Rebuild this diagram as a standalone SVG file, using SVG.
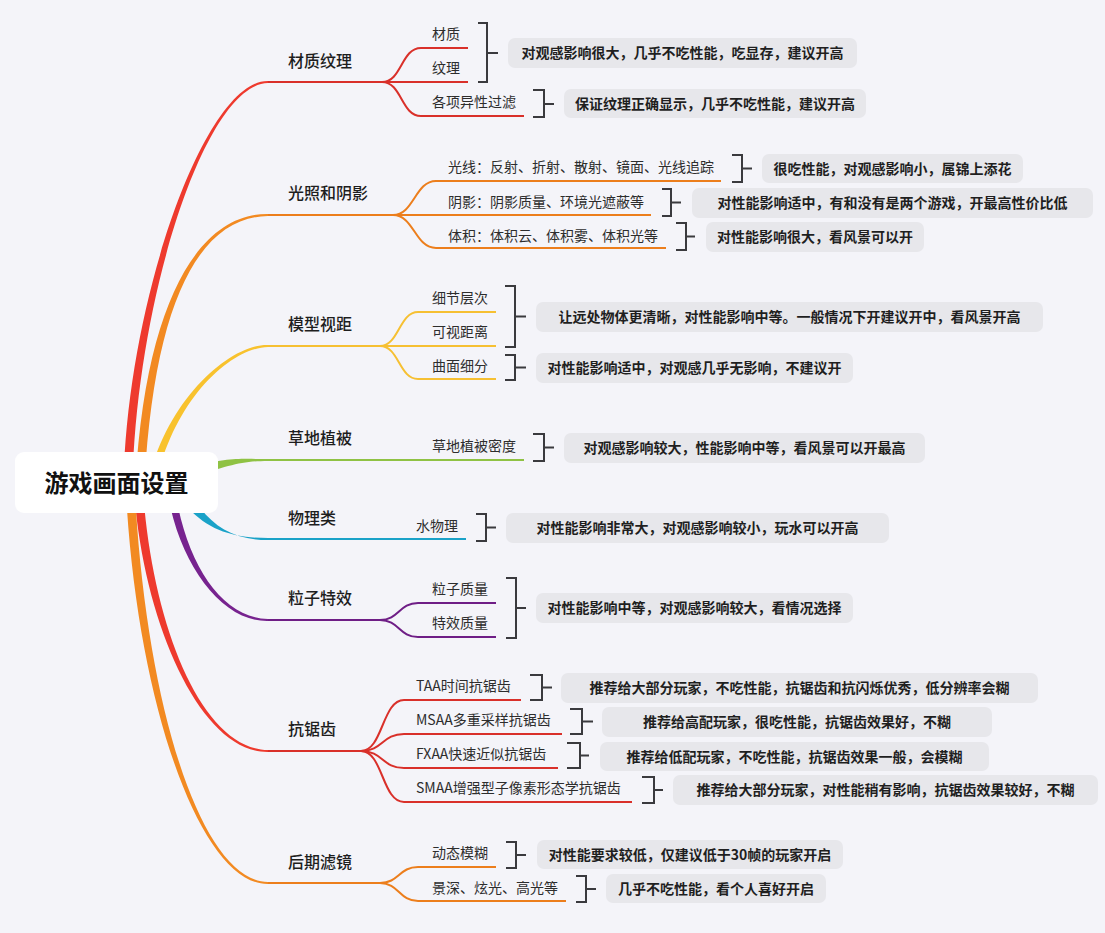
<svg xmlns="http://www.w3.org/2000/svg" width="1105" height="933" viewBox="0 0 1105 933">
<style>
text{font-family:"Noto Sans CJK SC","Noto Sans",sans-serif;}
.main{font-size:16px;font-weight:500;fill:#1e1e1e;}
.child{font-size:14px;fill:#2d2d2d;}
.note{font-size:14px;font-weight:600;fill:#1f1f1f;text-anchor:middle;}
.box{fill:#e7e7eb;}
.br{fill:none;stroke:#3a3a3e;stroke-width:2;}
.ln{fill:none;stroke-width:2;}
.red{stroke:#d9302a;} .org{stroke:#ec7e1c;} .yel{stroke:#f6c033;} .grn{stroke:#8fc244;} .cyn{stroke:#1aa2c8;} .pur{stroke:#6f1e86;}
</style>
<rect width="1105" height="933" fill="#f4f4f9"/>
<g id="connectors">
<path fill="#ee3a2e" d="M123.5,483 C127.5,300 205,80 268,81 L268,83 C205,84 136.5,300 132.5,483 Z"/>
<path fill="#f28a22" d="M135.5,483 C145.5,300 200,213 268,214 L268,216 C200,217 154.5,300 144.5,483 Z"/>
<path fill="#f8c22e" d="M148,483 C166,400 230,344 268,345 L268,347 C230,348 174,400 156,483 Z"/>
<path fill="#8fc244" d="M190,467 C230,457 240,459 268,459 L268,461 C240,461 230,466 190,477 Z"/>
<path fill="#1aa2c8" d="M180,498 C203,529 230,538 268,538 L268,540 C230,540 207,523 190,492 Z"/>
<path fill="#77238f" d="M166,483 C176,560 220,622 268,621 L268,619 C220,618 184,560 174,483 Z"/>
<path fill="#ee3a2e" d="M133.5,483 C141.5,620 200,753 268,752 L268,750 C200,749 150.5,620 142.5,483 Z"/>
<path fill="#f28a22" d="M125.5,483 C135.5,700 200,885 268,884 L268,882 C200,881 144.5,700 134.5,483 Z"/>
<path class="ln red" d="M268,82 H468"/>
<path class="ln red" d="M382,82 C402,82 401,48 421,48 H468"/>
<path class="ln red" d="M382,82 C402,82 401,116 421,116 H524"/>
<path class="ln org" d="M268,215 H651"/>
<path class="ln org" d="M393,215 C414,215 415,181 436,181 H721"/>
<path class="ln org" d="M393,215 C414,215 415,248 436,248 H666"/>
<path class="ln yel" d="M268,346 H496"/>
<path class="ln yel" d="M380,346 C399,346 399,312 418,312 H496"/>
<path class="ln yel" d="M380,346 C399,346 399,379 418,379 H496"/>
<path class="ln grn" d="M268,460 H524"/>
<path class="ln cyn" d="M268,539 H466"/>
<path class="ln pur" d="M268,620 H380"/>
<path class="ln pur" d="M380,620 C399,620 399,603 418,603 H496"/>
<path class="ln pur" d="M380,620 C399,620 399,637 418,637 H496"/>
<path class="ln red" d="M268,751 H361"/>
<path class="ln red" d="M361,751 C383,751 382,700 404,700 H521"/>
<path class="ln red" d="M361,751 C383,751 382,734 404,734 H562"/>
<path class="ln red" d="M361,751 C383,751 382,768 404,768 H558"/>
<path class="ln red" d="M361,751 C383,751 382,802 404,802 H632"/>
<path class="ln org" d="M268,883 H380"/>
<path class="ln org" d="M380,883 C399,883 399,867 418,867 H496"/>
<path class="ln org" d="M380,883 C399,883 399,901 418,901 H566"/>
</g>
<g id="summaries">
<path class="br" d="M478,23 H487 V82 H478 M487,53 H498"/>
<path class="br" d="M533,90 H544 V117 H533 M544,104 H554"/>
<path class="br" d="M732,155 H742 V182 H732 M742,168.5 H752"/>
<path class="br" d="M662,189 H671 V216 H662 M671,202.5 H681"/>
<path class="br" d="M676,223 H686 V250 H676 M686,236.5 H695"/>
<path class="br" d="M505,286 H515 V347 H505 M515,316.5 H526"/>
<path class="br" d="M505,355 H515 V380 H505 M515,367.5 H526"/>
<path class="br" d="M533,434 H544 V461 H533 M544,447.5 H554"/>
<path class="br" d="M476,514 H486 V541 H476 M486,527.5 H496"/>
<path class="br" d="M506,578 H516 V638 H506 M516,608 H526"/>
<path class="br" d="M530,675 H542 V700 H530 M542,687.5 H552"/>
<path class="br" d="M570,709 H582 V734 H570 M582,721.5 H593"/>
<path class="br" d="M567,743 H580 V768 H567 M580,755.5 H589"/>
<path class="br" d="M642,777 H654 V803 H642 M654,790 H663"/>
<path class="br" d="M506,842 H516 V868 H506 M516,855 H526"/>
<path class="br" d="M576,876 H586 V902 H576 M586,889 H596"/>
</g>
<g id="root">
<rect x="15" y="452" width="203" height="61" rx="9" fill="#ffffff"/>
<text x="116.5" y="491.5" font-size="24" font-weight="700" fill="#111" text-anchor="middle">游戏画面设置</text>
</g>
<g id="b1"><text class="main" x="288" y="66.5">材质纹理</text></g>
<g id="b1c1"><text class="child" x="432" y="39">材质</text></g>
<g id="b1c2"><text class="child" x="432" y="73">纹理</text></g>
<g id="b1c3"><text class="child" x="432" y="107">各项异性过滤</text></g>
<g id="b1s1"><rect class="box" x="508" y="38" width="349" height="30" rx="7"/><text class="note" x="682.5" y="58">对观感影响很大，几乎不吃性能，吃显存，建议开高</text></g>
<g id="b1s2"><rect class="box" x="564" y="89" width="302" height="29" rx="7"/><text class="note" x="715" y="108.5">保证纹理正确显示，几乎不吃性能，建议开高</text></g>
<g id="b2"><text class="main" x="288" y="198.5">光照和阴影</text></g>
<g id="b2c1"><text class="child" x="448" y="172">光线：反射、折射、散射、镜面、光线追踪</text></g>
<g id="b2c2"><text class="child" x="448" y="207">阴影：阴影质量、环境光遮蔽等</text></g>
<g id="b2c3"><text class="child" x="448" y="241">体积：体积云、体积雾、体积光等</text></g>
<g id="b2s1"><rect class="box" x="762" y="154" width="261" height="29" rx="7"/><text class="note" x="892.5" y="173.5">很吃性能，对观感影响小，属锦上添花</text></g>
<g id="b2s2"><rect class="box" x="692" y="188" width="401" height="30" rx="7"/><text class="note" x="892.5" y="208">对性能影响适中，有和没有是两个游戏，开最高性价比低</text></g>
<g id="b2s3"><rect class="box" x="706" y="222" width="218" height="30" rx="7"/><text class="note" x="815" y="242">对性能影响很大，看风景可以开</text></g>
<g id="b3"><text class="main" x="288" y="329.5">模型视距</text></g>
<g id="b3c1"><text class="child" x="432" y="303">细节层次</text></g>
<g id="b3c2"><text class="child" x="432" y="337">可视距离</text></g>
<g id="b3c3"><text class="child" x="432" y="371">曲面细分</text></g>
<g id="b3s1"><rect class="box" x="536" y="302" width="507" height="30" rx="7"/><text class="note" x="789.5" y="322">让远处物体更清晰，对性能影响中等。一般情况下开建议开中，看风景开高</text></g>
<g id="b3s2"><rect class="box" x="536" y="353" width="317" height="30" rx="7"/><text class="note" x="694.5" y="373">对性能影响适中，对观感几乎无影响，不建议开</text></g>
<g id="b4"><text class="main" x="288" y="443.5">草地植被</text></g>
<g id="b4c1"><text class="child" x="432" y="451">草地植被密度</text></g>
<g id="b4s1"><rect class="box" x="564" y="433" width="361" height="30" rx="7"/><text class="note" x="744.5" y="453">对观感影响较大，性能影响中等，看风景可以开最高</text></g>
<g id="b5"><text class="main" x="288" y="523.5">物理类</text></g>
<g id="b5c1"><text class="child" x="416" y="531">水物理</text></g>
<g id="b5s1"><rect class="box" x="506" y="513" width="383" height="30" rx="7"/><text class="note" x="697.5" y="533">对性能影响非常大，对观感影响较小，玩水可以开高</text></g>
<g id="b6"><text class="main" x="288" y="603.5">粒子特效</text></g>
<g id="b6c1"><text class="child" x="432" y="594">粒子质量</text></g>
<g id="b6c2"><text class="child" x="432" y="628">特效质量</text></g>
<g id="b6s1"><rect class="box" x="536" y="593" width="317" height="30" rx="7"/><text class="note" x="694.5" y="613">对性能影响中等，对观感影响较大，看情况选择</text></g>
<g id="b7"><text class="main" x="288" y="734.5">抗锯齿</text></g>
<g id="b7c1"><text class="child" x="416" y="691">TAA时间抗锯齿</text></g>
<g id="b7c2"><text class="child" x="416" y="725">MSAA多重采样抗锯齿</text></g>
<g id="b7c3"><text class="child" x="416" y="759">FXAA快速近似抗锯齿</text></g>
<g id="b7c4"><text class="child" x="416" y="793">SMAA增强型子像素形态学抗锯齿</text></g>
<g id="b7s1"><rect class="box" x="561" y="673" width="477" height="30" rx="7"/><text class="note" x="799.5" y="693">推荐给大部分玩家，不吃性能，抗锯齿和抗闪烁优秀，低分辨率会糊</text></g>
<g id="b7s2"><rect class="box" x="602" y="707" width="390" height="30" rx="7"/><text class="note" x="797" y="727">推荐给高配玩家，很吃性能，抗锯齿效果好，不糊</text></g>
<g id="b7s3"><rect class="box" x="600" y="742" width="389" height="29" rx="7"/><text class="note" x="794.5" y="761.5">推荐给低配玩家，不吃性能，抗锯齿效果一般，会模糊</text></g>
<g id="b7s4"><rect class="box" x="673" y="775" width="425" height="30" rx="7"/><text class="note" x="885.5" y="795">推荐给大部分玩家，对性能稍有影响，抗锯齿效果较好，不糊</text></g>
<g id="b8"><text class="main" x="288" y="867.5">后期滤镜</text></g>
<g id="b8c1"><text class="child" x="432" y="858">动态模糊</text></g>
<g id="b8c2"><text class="child" x="432" y="893">景深、炫光、高光等</text></g>
<g id="b8s1"><rect class="box" x="537" y="840" width="306" height="29" rx="7"/><text class="note" x="690" y="859.5">对性能要求较低，仅建议低于30帧的玩家开启</text></g>
<g id="b8s2"><rect class="box" x="606" y="874" width="220" height="29" rx="7"/><text class="note" x="716" y="893.5">几乎不吃性能，看个人喜好开启</text></g>
</svg>
